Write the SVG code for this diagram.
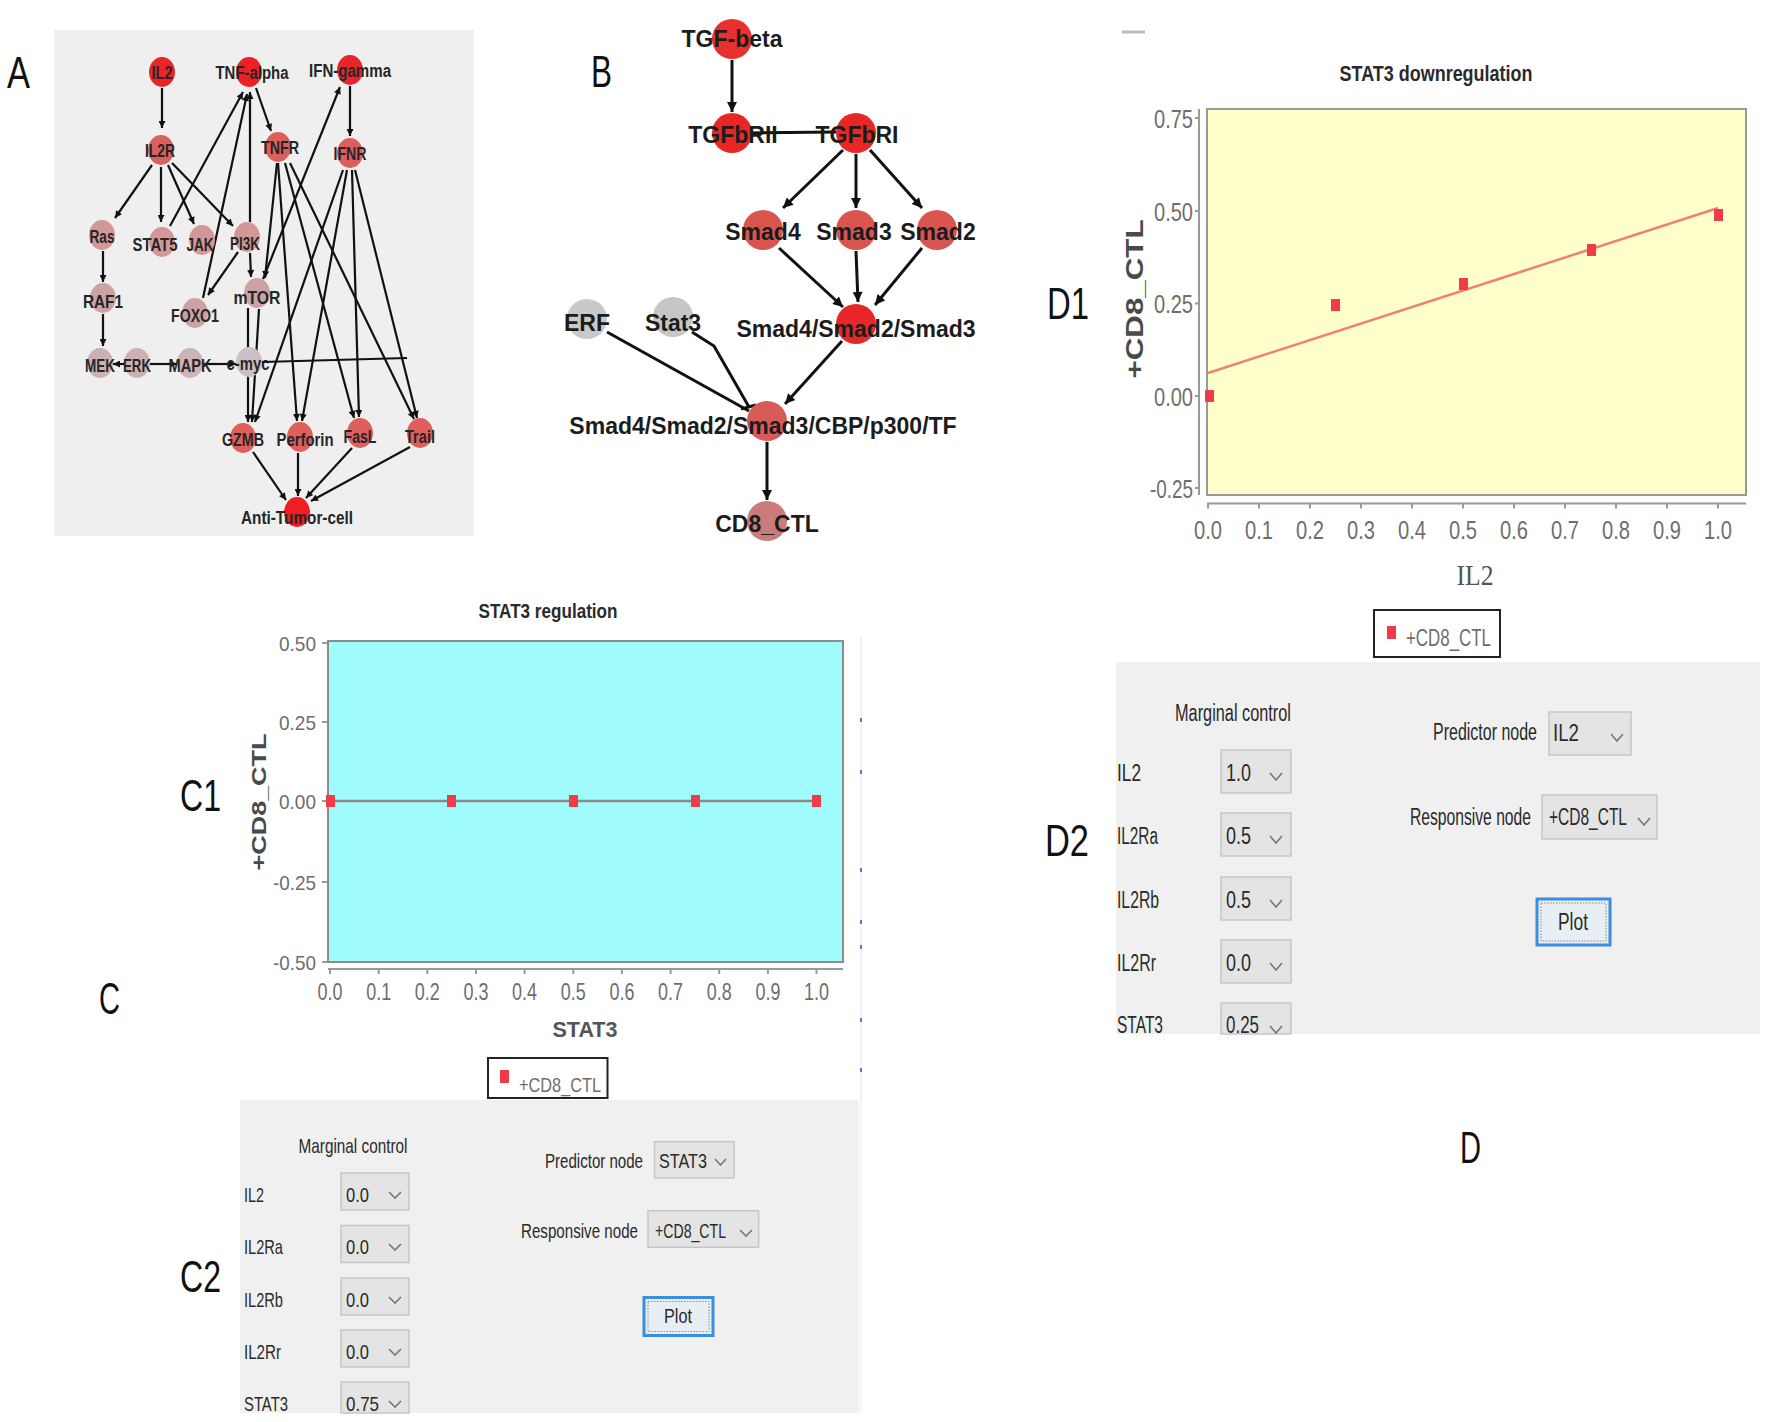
<svg xmlns="http://www.w3.org/2000/svg" width="1766" height="1422" viewBox="0 0 1766 1422">
<style>
.lt{font-family:'Liberation Sans',Arial,sans-serif;font-size:44px;fill:#111}
.na{font-family:'Liberation Sans',Arial,sans-serif;font-weight:bold;font-size:18px;fill:#262626;text-anchor:middle}
.nb{font-family:'Liberation Sans',Arial,sans-serif;font-weight:bold;font-size:23px;fill:#1c1c1c;text-anchor:middle}
.ea{stroke:#111;stroke-width:2.2;fill:none}
.eb{stroke:#111;stroke-width:3;fill:none}
.tk{font-family:'Liberation Sans',Arial,sans-serif;fill:#6e6e6e}
.ttl{font-family:'Liberation Sans',Arial,sans-serif;font-weight:bold;fill:#2a2a2a;text-anchor:middle}
.ui{font-family:'Liberation Sans',Arial,sans-serif;fill:#2a2a2a}
.dd{fill:#e4e4e4;stroke:#c6c6c6;stroke-width:1.5}
.chev{fill:none;stroke:#777;stroke-width:1.6}
.ax{stroke:#9a9a9a;stroke-width:2;fill:none}
.pt{fill:#f03c4a}
</style>
<defs>
<marker id="arA" viewBox="0 0 10 10" refX="10" refY="5" markerWidth="8" markerHeight="7" markerUnits="userSpaceOnUse" orient="auto"><path d="M0,0 L10,5 L0,10 z" fill="#111"/></marker>
<marker id="arB" viewBox="0 0 10 10" refX="10" refY="5" markerWidth="11" markerHeight="10" markerUnits="userSpaceOnUse" orient="auto"><path d="M0,0 L10,5 L0,10 z" fill="#111"/></marker>
</defs>
<rect width="1766" height="1422" fill="#fff"/>

<!-- panel letters -->
<g id="letters">
<text class="lt" x="7" y="88" textLength="23" lengthAdjust="spacingAndGlyphs">A</text>
<text class="lt" x="591" y="87" textLength="21" lengthAdjust="spacingAndGlyphs">B</text>
<text class="lt" x="1047" y="319" textLength="42" lengthAdjust="spacingAndGlyphs">D1</text>
<text class="lt" x="1045" y="856" textLength="44" lengthAdjust="spacingAndGlyphs">D2</text>
<text class="lt" x="1460" y="1163" textLength="21" lengthAdjust="spacingAndGlyphs">D</text>
<text class="lt" x="180" y="811" textLength="41" lengthAdjust="spacingAndGlyphs">C1</text>
<text class="lt" x="99" y="1014" textLength="21" lengthAdjust="spacingAndGlyphs">C</text>
<text class="lt" x="180" y="1292" textLength="41" lengthAdjust="spacingAndGlyphs">C2</text>
</g>

<!-- ============ PANEL A ============ -->
<rect x="54" y="30" width="420" height="506" fill="#efefef"/>
<g id="edgesA" class="ea">
<path d="M162,88 L162,128" marker-end="url(#arA)"/>
<path d="M152,165 L115,218" marker-end="url(#arA)"/>
<path d="M161,167 L161,222" marker-end="url(#arA)"/>
<path d="M168,165 L194,224" marker-end="url(#arA)"/>
<path d="M172,163 L233,226" marker-end="url(#arA)"/>
<path d="M170,226 L243,92" marker-end="url(#arA)"/>
<path d="M203,298 L247,94" marker-end="url(#arA)"/>
<path d="M250,222 L250,92" marker-end="url(#arA)"/>
<path d="M256,88 L271,131" marker-end="url(#arA)"/>
<path d="M350,86 L350,136" marker-end="url(#arA)"/>
<path d="M263,279 L340,87" marker-end="url(#arA)"/>
<path d="M238,252 L208,295" marker-end="url(#arA)"/>
<path d="M250,253 L251,277" marker-end="url(#arA)"/>
<path d="M103,251 L103,282" marker-end="url(#arA)"/>
<path d="M103,314 L103,346" marker-end="url(#arA)"/>
<path d="M125,364 L113,364" marker-end="url(#arA)"/>
<path d="M150,364 L177,364" marker-end="url(#arA)"/>
<path d="M204,364 L236,364" marker-end="url(#arA)"/>
<path d="M248,308 L248,422" marker-end="url(#arA)"/>
<path d="M259,309 L252,422" marker-end="url(#arA)"/>
<path d="M277,163 L265,278" marker-end="url(#arA)"/>
<path d="M343,170 L255,422" marker-end="url(#arA)"/>
<path d="M278,163 L297,421" marker-end="url(#arA)"/>
<path d="M285,163 L354,418" marker-end="url(#arA)"/>
<path d="M290,163 L414,419" marker-end="url(#arA)"/>
<path d="M347,170 L302,421" marker-end="url(#arA)"/>
<path d="M352,170 L359,417" marker-end="url(#arA)"/>
<path d="M355,170 L417,418" marker-end="url(#arA)"/>
<path d="M253,452 L286,500" marker-end="url(#arA)"/>
<path d="M298,453 L298,496" marker-end="url(#arA)"/>
<path d="M352,448 L306,498" marker-end="url(#arA)"/>
<path d="M410,447 L311,501" marker-end="url(#arA)"/>
</g>
<g id="A-IL2"><ellipse cx="162" cy="72" rx="13" ry="15" fill="#e8262a"/><text class="na" x="162" y="79" textLength="21" lengthAdjust="spacingAndGlyphs">IL2</text></g>
<g id="A-TNF-alpha"><ellipse cx="249" cy="72" rx="13" ry="15" fill="#ee2024"/><text class="na" x="252" y="79" textLength="73" lengthAdjust="spacingAndGlyphs">TNF-alpha</text></g>
<g id="A-IFN-gamma"><ellipse cx="350" cy="70" rx="13" ry="15" fill="#e8262a"/><text class="na" x="350" y="77" textLength="82" lengthAdjust="spacingAndGlyphs">IFN-gamma</text></g>
<g id="A-IL2R"><ellipse cx="161" cy="150" rx="13" ry="15" fill="#d9605f"/><text class="na" x="160" y="157" textLength="30" lengthAdjust="spacingAndGlyphs">IL2R</text></g>
<g id="A-TNFR"><ellipse cx="278" cy="147" rx="13" ry="15" fill="#dc5e5d"/><text class="na" x="280" y="154" textLength="38" lengthAdjust="spacingAndGlyphs">TNFR</text></g>
<g id="A-IFNR"><ellipse cx="350" cy="153" rx="13" ry="15" fill="#dc5e5d"/><text class="na" x="350" y="160" textLength="33" lengthAdjust="spacingAndGlyphs">IFNR</text></g>
<g id="A-Ras"><ellipse cx="102" cy="235" rx="13" ry="15" fill="#d49798"/><text class="na" x="102" y="243" textLength="25" lengthAdjust="spacingAndGlyphs">Ras</text></g>
<g id="A-STAT5"><ellipse cx="162" cy="242" rx="13" ry="15" fill="#d49798"/><text class="na" x="155" y="251" textLength="45" lengthAdjust="spacingAndGlyphs">STAT5</text></g>
<g id="A-JAK"><ellipse cx="202" cy="240" rx="13" ry="15" fill="#d49798"/><text class="na" x="200" y="251" textLength="27" lengthAdjust="spacingAndGlyphs">JAK</text></g>
<g id="A-PI3K"><ellipse cx="247" cy="237" rx="13" ry="15" fill="#d49798"/><text class="na" x="245" y="250" textLength="30" lengthAdjust="spacingAndGlyphs">PI3K</text></g>
<g id="A-RAF1"><ellipse cx="103" cy="298" rx="13" ry="15" fill="#cda2a5"/><text class="na" x="103" y="308" textLength="40" lengthAdjust="spacingAndGlyphs">RAF1</text></g>
<g id="A-FOXO1"><ellipse cx="195" cy="313" rx="13" ry="15" fill="#cda2a5"/><text class="na" x="195" y="322" textLength="48" lengthAdjust="spacingAndGlyphs">FOXO1</text></g>
<g id="A-mTOR"><ellipse cx="257" cy="293" rx="13" ry="15" fill="#cda2a5"/><text class="na" x="257" y="304" textLength="47" lengthAdjust="spacingAndGlyphs">mTOR</text></g>
<g id="A-MEK"><ellipse cx="100" cy="363" rx="13" ry="15" fill="#ccb0b3"/><text class="na" x="100" y="372" textLength="30" lengthAdjust="spacingAndGlyphs">MEK</text></g>
<g id="A-ERK"><ellipse cx="137" cy="363" rx="13" ry="15" fill="#ccb0b3"/><text class="na" x="137" y="372" textLength="28" lengthAdjust="spacingAndGlyphs">ERK</text></g>
<g id="A-MAPK"><ellipse cx="190" cy="363" rx="13" ry="15" fill="#ccb3b6"/><text class="na" x="190" y="372" textLength="43" lengthAdjust="spacingAndGlyphs">MAPK</text></g>
<g id="A-c-myc"><ellipse cx="249" cy="362" rx="13" ry="15" fill="#cdc0c4"/><text class="na" x="248" y="370" textLength="43" lengthAdjust="spacingAndGlyphs">c-myc</text></g>
<path d="M262,362 L407,358" class="ea"/>
<g id="A-GZMB"><ellipse cx="243" cy="438" rx="13" ry="15" fill="#e05e5c"/><text class="na" x="243" y="446" textLength="42" lengthAdjust="spacingAndGlyphs">GZMB</text></g>
<g id="A-Perforin"><ellipse cx="300" cy="437" rx="13" ry="15" fill="#e05e5c"/><text class="na" x="305" y="446" textLength="57" lengthAdjust="spacingAndGlyphs">Perforin</text></g>
<g id="A-FasL"><ellipse cx="360" cy="433" rx="13" ry="15" fill="#e05e5c"/><text class="na" x="360" y="443" textLength="33" lengthAdjust="spacingAndGlyphs">FasL</text></g>
<g id="A-Trail"><ellipse cx="420" cy="433" rx="13" ry="15" fill="#e05e5c"/><text class="na" x="420" y="443" textLength="30" lengthAdjust="spacingAndGlyphs">Trail</text></g>
<g id="A-Anti-Tumor-cell"><ellipse cx="297" cy="512" rx="13" ry="15" fill="#ee1e22"/><text class="na" x="297" y="524" textLength="112" lengthAdjust="spacingAndGlyphs">Anti-Tumor-cell</text></g>

<!-- ============ PANEL B ============ -->
<g id="edgesB" class="eb">
<path d="M732,60 L732,112" marker-end="url(#arB)"/>
<path d="M750,133 L836,132"/>
<path d="M843,150 L783,208" marker-end="url(#arB)"/>
<path d="M856,154 L856,208" marker-end="url(#arB)"/>
<path d="M870,150 L922,208" marker-end="url(#arB)"/>
<path d="M779,248 L843,307" marker-end="url(#arB)"/>
<path d="M856,251 L858,302" marker-end="url(#arB)"/>
<path d="M922,248 L875,305" marker-end="url(#arB)"/>
<path d="M842,341 L785,404" marker-end="url(#arB)"/>
<path d="M607,332 L749,411"/>
<path d="M692,332 L714,346 L749,407"/>
<path d="M741,409 L756,405"/>
<path d="M767,442 L767,500" marker-end="url(#arB)"/>
</g>
<g id="B-TGF-beta"><circle cx="732" cy="39" r="20" fill="#e8302e"/><text class="nb" x="732" y="47">TGF-beta</text></g>
<g id="B-TGFbRII"><circle cx="732" cy="133" r="20" fill="#e82725"/><text class="nb" x="733" y="143">TGFbRII</text></g>
<g id="B-TGFbRI"><circle cx="856" cy="133" r="20" fill="#e82725"/><text class="nb" x="857" y="143">TGFbRI</text></g>
<g id="B-Smad4"><circle cx="763" cy="230" r="20" fill="#d9554f"/><text class="nb" x="763" y="240">Smad4</text></g>
<g id="B-Smad3"><circle cx="856" cy="230" r="20" fill="#d9554f"/><text class="nb" x="854" y="240">Smad3</text></g>
<g id="B-Smad2"><circle cx="937" cy="230" r="20" fill="#d9554f"/><text class="nb" x="938" y="240">Smad2</text></g>
<g id="B-Smad4-Smad2-Smad3"><circle cx="856" cy="324" r="20" fill="#e82828"/><text class="nb" x="856" y="337">Smad4/Smad2/Smad3</text></g>
<g id="B-ERF"><circle cx="587" cy="319" r="20" fill="#c9c9c9"/><text class="nb" x="587" y="331">ERF</text></g>
<g id="B-Stat3"><circle cx="673" cy="317" r="20" fill="#c6c6c6"/><text class="nb" x="673" y="331">Stat3</text></g>
<g id="B-complex"><circle cx="767" cy="421" r="20" fill="#d85b58"/><text class="nb" x="763" y="434">Smad4/Smad2/Smad3/CBP/p300/TF</text></g>
<g id="B-CD8_CTL"><circle cx="767" cy="521" r="20" fill="#cc7b7b"/><text class="nb" x="767" y="532">CD8_CTL</text></g>

<!-- ============ PANEL D1 ============ -->
<g id="D1-plot">
<line x1="1122" y1="32" x2="1145" y2="32" stroke="#bbb" stroke-width="3"/>
<text class="ttl" x="1436" y="81" font-size="22" textLength="193" lengthAdjust="spacingAndGlyphs">STAT3 downregulation</text>
<rect x="1207" y="109" width="539" height="386" fill="#ffffcc" stroke="#9a9a9a" stroke-width="2"/>
<path class="ax" d="M1199,109 L1199,495 M1195,118 L1199,118 M1195,211 L1199,211 M1195,303.5 L1199,303.5 M1195,396 L1199,396 M1195,488 L1199,488"/>
<path class="ax" d="M1207,503.5 L1746,503.5 M1208,503.5 v5 M1259,503.5 v5 M1310,503.5 v5 M1361,503.5 v5 M1412,503.5 v5 M1463,503.5 v5 M1514,503.5 v5 M1565,503.5 v5 M1616,503.5 v5 M1667,503.5 v5 M1718,503.5 v5"/>
<g class="tk" font-size="25" text-anchor="end">
<text x="1193" y="128" textLength="39" lengthAdjust="spacingAndGlyphs">0.75</text>
<text x="1193" y="221" textLength="39" lengthAdjust="spacingAndGlyphs">0.50</text>
<text x="1193" y="313" textLength="39" lengthAdjust="spacingAndGlyphs">0.25</text>
<text x="1193" y="406" textLength="39" lengthAdjust="spacingAndGlyphs">0.00</text>
<text x="1193" y="498" textLength="43" lengthAdjust="spacingAndGlyphs">-0.25</text>
</g>
<g class="tk" font-size="26" text-anchor="middle">
<text x="1208" y="539" textLength="28" lengthAdjust="spacingAndGlyphs">0.0</text>
<text x="1259" y="539" textLength="28" lengthAdjust="spacingAndGlyphs">0.1</text>
<text x="1310" y="539" textLength="28" lengthAdjust="spacingAndGlyphs">0.2</text>
<text x="1361" y="539" textLength="28" lengthAdjust="spacingAndGlyphs">0.3</text>
<text x="1412" y="539" textLength="28" lengthAdjust="spacingAndGlyphs">0.4</text>
<text x="1463" y="539" textLength="28" lengthAdjust="spacingAndGlyphs">0.5</text>
<text x="1514" y="539" textLength="28" lengthAdjust="spacingAndGlyphs">0.6</text>
<text x="1565" y="539" textLength="28" lengthAdjust="spacingAndGlyphs">0.7</text>
<text x="1616" y="539" textLength="28" lengthAdjust="spacingAndGlyphs">0.8</text>
<text x="1667" y="539" textLength="28" lengthAdjust="spacingAndGlyphs">0.9</text>
<text x="1718" y="539" textLength="28" lengthAdjust="spacingAndGlyphs">1.0</text>
</g>
<text x="1475" y="585" font-family="'Liberation Serif','Times New Roman',serif" font-size="30" fill="#555" text-anchor="middle" textLength="37" lengthAdjust="spacingAndGlyphs">IL2</text>
<text transform="translate(1143,299) rotate(-90)" x="0" y="0" font-family="'Liberation Sans',Arial,sans-serif" font-weight="bold" font-size="23" fill="#4a4a4a" text-anchor="middle" textLength="159" lengthAdjust="spacingAndGlyphs">+CD8_CTL</text>
<line x1="1208" y1="373" x2="1718" y2="208" stroke="#f2806c" stroke-width="2.5"/>
<rect class="pt" x="1205" y="390" width="9" height="12"/>
<rect class="pt" x="1331" y="299" width="9" height="12"/>
<rect class="pt" x="1459" y="278" width="9" height="12"/>
<rect class="pt" x="1587" y="244" width="9" height="12"/>
<rect class="pt" x="1714" y="209" width="9" height="12"/>
<rect x="1374" y="610" width="126" height="47" fill="#fff" stroke="#222" stroke-width="2"/>
<rect class="pt" x="1387" y="626" width="9" height="13"/>
<text class="tk" x="1406" y="646" font-size="24" fill="#555" textLength="85" lengthAdjust="spacingAndGlyphs">+CD8_CTL</text>
</g>

<!-- ============ PANEL D2 ============ -->
<g id="D2-controls">
<rect x="1116" y="662" width="644" height="372" fill="#f0f0f0"/>
<g class="ui" font-size="23">
<text x="1233" y="721" text-anchor="middle" textLength="116" lengthAdjust="spacingAndGlyphs">Marginal control</text>
<text x="1117" y="781" textLength="24" lengthAdjust="spacingAndGlyphs">IL2</text>
<text x="1117" y="844" textLength="41" lengthAdjust="spacingAndGlyphs">IL2Ra</text>
<text x="1117" y="908" textLength="42" lengthAdjust="spacingAndGlyphs">IL2Rb</text>
<text x="1117" y="971" textLength="39" lengthAdjust="spacingAndGlyphs">IL2Rr</text>
<text x="1117" y="1033" textLength="46" lengthAdjust="spacingAndGlyphs">STAT3</text>
</g>
<rect class="dd" x="1221" y="750" width="70" height="43"/>
<rect class="dd" x="1221" y="813" width="70" height="43"/>
<rect class="dd" x="1221" y="877" width="70" height="43"/>
<rect class="dd" x="1221" y="940" width="70" height="43"/>
<rect class="dd" x="1221" y="1003" width="70" height="31"/>
<g class="ui" font-size="23">
<text x="1226" y="781" textLength="25" lengthAdjust="spacingAndGlyphs">1.0</text>
<text x="1226" y="844" textLength="25" lengthAdjust="spacingAndGlyphs">0.5</text>
<text x="1226" y="908" textLength="25" lengthAdjust="spacingAndGlyphs">0.5</text>
<text x="1226" y="971" textLength="25" lengthAdjust="spacingAndGlyphs">0.0</text>
<text x="1226" y="1033" textLength="33" lengthAdjust="spacingAndGlyphs">0.25</text>
</g>
<path class="chev" d="M1270,773 l6,7 l6,-7 M1270,836 l6,7 l6,-7 M1270,900 l6,7 l6,-7 M1270,963 l6,7 l6,-7 M1270,1026 l6,7 l6,-7"/>
<text class="ui" x="1537" y="740" font-size="23" text-anchor="end" textLength="104" lengthAdjust="spacingAndGlyphs">Predictor node</text>
<rect class="dd" x="1549" y="712" width="82" height="43"/>
<text class="ui" x="1553" y="741" font-size="23" textLength="26" lengthAdjust="spacingAndGlyphs">IL2</text>
<path class="chev" d="M1611,734 l6,7 l6,-7"/>
<text class="ui" x="1531" y="825" font-size="23" text-anchor="end" textLength="121" lengthAdjust="spacingAndGlyphs">Responsive node</text>
<rect class="dd" x="1542" y="795" width="115" height="44"/>
<text class="ui" x="1549" y="825" font-size="23" textLength="78" lengthAdjust="spacingAndGlyphs">+CD8_CTL</text>
<path class="chev" d="M1638,818 l6,7 l6,-7"/>
<rect x="1537" y="899" width="73" height="46" fill="#e9eef3" stroke="#3a8ee0" stroke-width="3"/>
<rect x="1541" y="903" width="65" height="38" fill="none" stroke="#888" stroke-width="1" stroke-dasharray="1.5,1.5"/>
<text class="ui" x="1573" y="930" font-size="23" text-anchor="middle" textLength="30" lengthAdjust="spacingAndGlyphs">Plot</text>
</g>

<!-- ============ PANEL C1 ============ -->
<g id="C1-plot">
<text class="ttl" x="548" y="618" font-size="20" textLength="139" lengthAdjust="spacingAndGlyphs">STAT3 regulation</text>
<rect x="328" y="641" width="515" height="321" fill="#a0fcfc" stroke="#8c8c8c" stroke-width="2"/>
<path class="ax" d="M322,643 L327,643 M322,722 L327,722 M322,801 L327,801 M322,882 L327,882 M322,962 L327,962"/>
<path class="ax" d="M328,969 L843,969 M330,969 v5 M378.7,969 v5 M427.3,969 v5 M476,969 v5 M524.6,969 v5 M573.3,969 v5 M621.9,969 v5 M670.6,969 v5 M719.2,969 v5 M767.9,969 v5 M816.5,969 v5"/>
<g class="tk" font-size="21" text-anchor="end">
<text x="316" y="651" textLength="37" lengthAdjust="spacingAndGlyphs">0.50</text>
<text x="316" y="730" textLength="37" lengthAdjust="spacingAndGlyphs">0.25</text>
<text x="316" y="809" textLength="37" lengthAdjust="spacingAndGlyphs">0.00</text>
<text x="316" y="890" textLength="43" lengthAdjust="spacingAndGlyphs">-0.25</text>
<text x="316" y="970" textLength="43" lengthAdjust="spacingAndGlyphs">-0.50</text>
</g>
<g class="tk" font-size="23" text-anchor="middle">
<text x="330" y="1000" textLength="25" lengthAdjust="spacingAndGlyphs">0.0</text>
<text x="378.7" y="1000" textLength="25" lengthAdjust="spacingAndGlyphs">0.1</text>
<text x="427.3" y="1000" textLength="25" lengthAdjust="spacingAndGlyphs">0.2</text>
<text x="476" y="1000" textLength="25" lengthAdjust="spacingAndGlyphs">0.3</text>
<text x="524.6" y="1000" textLength="25" lengthAdjust="spacingAndGlyphs">0.4</text>
<text x="573.3" y="1000" textLength="25" lengthAdjust="spacingAndGlyphs">0.5</text>
<text x="621.9" y="1000" textLength="25" lengthAdjust="spacingAndGlyphs">0.6</text>
<text x="670.6" y="1000" textLength="25" lengthAdjust="spacingAndGlyphs">0.7</text>
<text x="719.2" y="1000" textLength="25" lengthAdjust="spacingAndGlyphs">0.8</text>
<text x="767.9" y="1000" textLength="25" lengthAdjust="spacingAndGlyphs">0.9</text>
<text x="816.5" y="1000" textLength="25" lengthAdjust="spacingAndGlyphs">1.0</text>
</g>
<text x="585" y="1037" font-family="'Liberation Sans',Arial,sans-serif" font-weight="bold" font-size="22" fill="#555" text-anchor="middle" textLength="65" lengthAdjust="spacingAndGlyphs">STAT3</text>
<text transform="translate(266,802) rotate(-90)" x="0" y="0" font-family="'Liberation Sans',Arial,sans-serif" font-weight="bold" font-size="21" fill="#4a4a4a" text-anchor="middle" textLength="137" lengthAdjust="spacingAndGlyphs">+CD8_CTL</text>
<line x1="330" y1="801" x2="816.5" y2="801" stroke="#8a8a8a" stroke-width="2.5"/>
<rect class="pt" x="326" y="795" width="9" height="12"/>
<rect class="pt" x="447" y="795" width="9" height="12"/>
<rect class="pt" x="569" y="795" width="9" height="12"/>
<rect class="pt" x="691" y="795" width="9" height="12"/>
<rect class="pt" x="812" y="795" width="9" height="12"/>
<rect x="488" y="1058" width="119.5" height="40" fill="#fff" stroke="#222" stroke-width="2"/>
<rect class="pt" x="500" y="1070" width="9" height="13"/>
<text class="tk" x="519" y="1092" font-size="21" fill="#555" textLength="82" lengthAdjust="spacingAndGlyphs">+CD8_CTL</text>
<line x1="861" y1="637" x2="861" y2="1412" stroke="#e2e2ee" stroke-width="1"/>
<g fill="#6a6ae0">
<rect x="860" y="718" width="2" height="4"/><rect x="860" y="770" width="2" height="4"/><rect x="860" y="868" width="2" height="4"/><rect x="860" y="920" width="2" height="4"/><rect x="860" y="945" width="2" height="4"/><rect x="860" y="1018" width="2" height="4"/><rect x="860" y="1068" width="2" height="4"/>
</g>
</g>

<!-- ============ PANEL C2 ============ -->
<g id="C2-controls">
<rect x="240" y="1100" width="619" height="313" fill="#f0f0f0"/>
<g class="ui" font-size="21">
<text x="353" y="1153" text-anchor="middle" textLength="109" lengthAdjust="spacingAndGlyphs">Marginal control</text>
<text x="244" y="1202" textLength="20" lengthAdjust="spacingAndGlyphs">IL2</text>
<text x="244" y="1254" textLength="39" lengthAdjust="spacingAndGlyphs">IL2Ra</text>
<text x="244" y="1307" textLength="39" lengthAdjust="spacingAndGlyphs">IL2Rb</text>
<text x="244" y="1359" textLength="37" lengthAdjust="spacingAndGlyphs">IL2Rr</text>
<text x="244" y="1411" textLength="44" lengthAdjust="spacingAndGlyphs">STAT3</text>
</g>
<rect class="dd" x="341" y="1173" width="68" height="37"/>
<rect class="dd" x="341" y="1225.5" width="68" height="37"/>
<rect class="dd" x="341" y="1278" width="68" height="37"/>
<rect class="dd" x="341" y="1330" width="68" height="37"/>
<rect class="dd" x="341" y="1382" width="68" height="31"/>
<g class="ui" font-size="21">
<text x="346" y="1202" textLength="23" lengthAdjust="spacingAndGlyphs">0.0</text>
<text x="346" y="1254" textLength="23" lengthAdjust="spacingAndGlyphs">0.0</text>
<text x="346" y="1307" textLength="23" lengthAdjust="spacingAndGlyphs">0.0</text>
<text x="346" y="1359" textLength="23" lengthAdjust="spacingAndGlyphs">0.0</text>
<text x="346" y="1411" textLength="33" lengthAdjust="spacingAndGlyphs">0.75</text>
</g>
<path class="chev" d="M389,1192 l6,6 l6,-6 M389,1244 l6,6 l6,-6 M389,1297 l6,6 l6,-6 M389,1349 l6,6 l6,-6 M389,1401 l6,6 l6,-6"/>
<text class="ui" x="643" y="1168" font-size="21" text-anchor="end" textLength="98" lengthAdjust="spacingAndGlyphs">Predictor node</text>
<rect class="dd" x="654.5" y="1141.7" width="79.5" height="36.3"/>
<text class="ui" x="659" y="1168" font-size="21" textLength="48" lengthAdjust="spacingAndGlyphs">STAT3</text>
<path class="chev" d="M715,1159 l5.5,6 l5.5,-6"/>
<text class="ui" x="638" y="1238" font-size="21" text-anchor="end" textLength="117" lengthAdjust="spacingAndGlyphs">Responsive node</text>
<rect class="dd" x="648" y="1210.7" width="110.6" height="36.6"/>
<text class="ui" x="655" y="1238" font-size="21" textLength="71" lengthAdjust="spacingAndGlyphs">+CD8_CTL</text>
<path class="chev" d="M740,1230 l6,6 l6,-6"/>
<rect x="644" y="1297.5" width="69" height="38" fill="#e9eef3" stroke="#3a8ee0" stroke-width="3"/>
<rect x="648" y="1301.5" width="61" height="30" fill="none" stroke="#888" stroke-width="1" stroke-dasharray="1.5,1.5"/>
<text class="ui" x="678" y="1323" font-size="21" text-anchor="middle" textLength="28" lengthAdjust="spacingAndGlyphs">Plot</text>
</g>
</svg>
